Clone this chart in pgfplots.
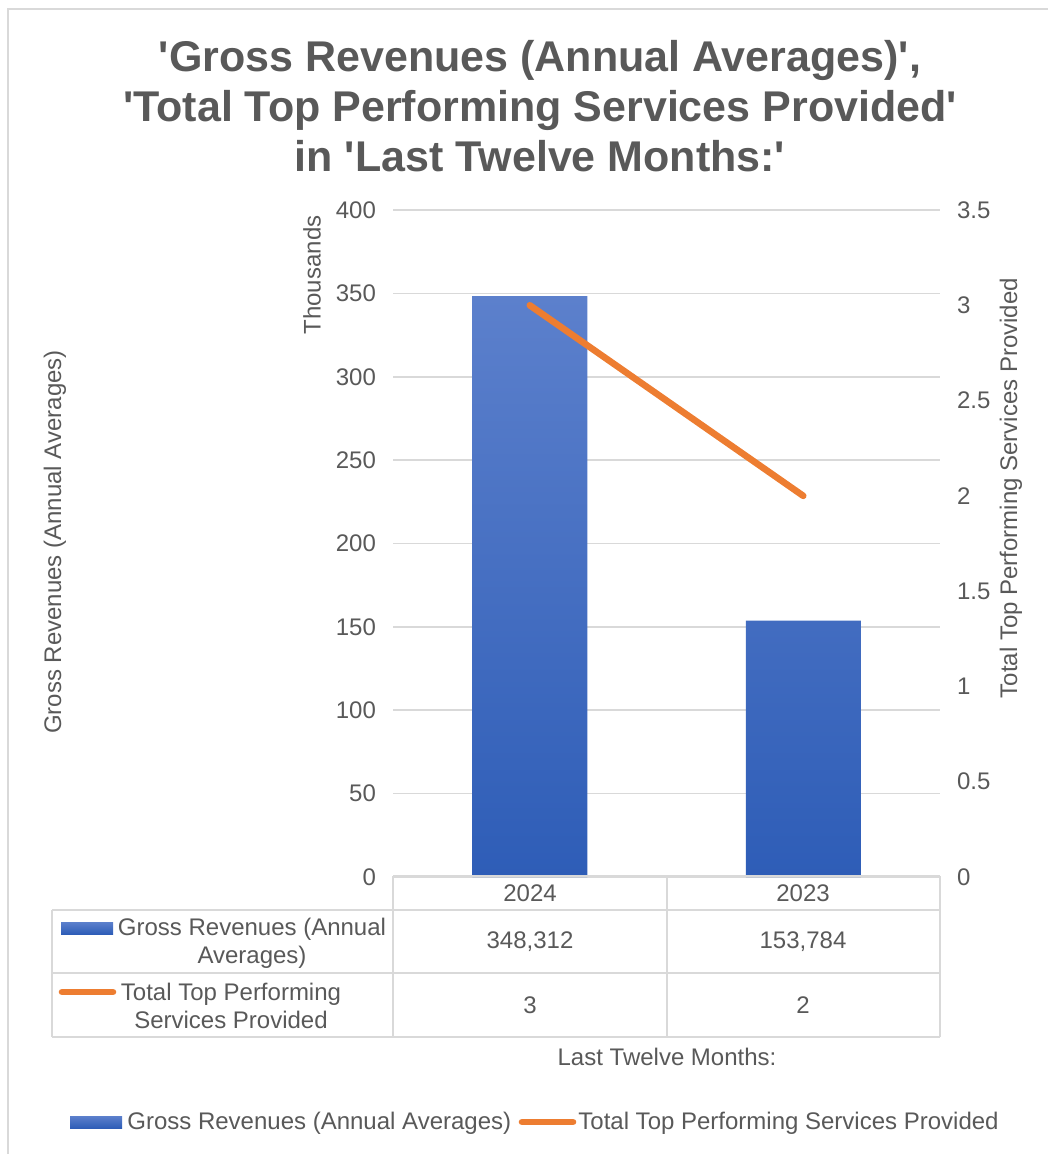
\documentclass[border=0pt]{standalone}
\usepackage{fontspec}
\setmainfont{Liberation Sans}
\usepackage{pgfplots}
\pgfplotsset{compat=1.18}
\definecolor{txt}{HTML}{595959}
\definecolor{gridc}{HTML}{D9D9D9}
\definecolor{bartop}{HTML}{5C80CC}
\definecolor{barbot}{HTML}{2E5DB7}
\definecolor{lineor}{HTML}{ED7D31}
\newcommand{\q}{\textquotesingle}
\begin{document}
\begin{tikzpicture}[x=0.5pt,y=-0.5pt]
\path[use as bounding box] (0,0) rectangle (1048,1154);
\draw[gridc, line width=1.2pt] (8,1154) -- (8,9) -- (1048,9);
\coordinate (O) at (393,877);
% title
\node[txt, font=\fontsize{21.5}{25}\selectfont\bfseries, align=center] at (540,106)
  {\q Gross Revenues (Annual Averages)\q,\\\q Total Top Performing Services Provided\q\\in \q Last Twelve Months:\q};
% primary axis
\begin{axis}[at={(O)}, anchor=south west, scale only axis,
  width=273.5pt, height=333.5pt, xmin=-0.5, xmax=1.5, ymin=0, ymax=400,
  axis line style={draw=none}, ytick={0,50,...,400}, xtick=\empty,
  ymajorgrids, grid style={gridc, line width=0.8pt}, major tick length=0pt,
  /pgf/number format/assume math mode=true,
  yticklabel style={txt, font=\fontsize{12}{14}\selectfont, xshift=-5pt},
  clip=false]
\addplot[ybar, bar width=57.5pt, draw=none, top color=bartop, bottom color=barbot]
  coordinates {(0,348.312) (1,153.784)};
\end{axis}
% secondary axis
\begin{axis}[at={(O)}, anchor=south west, scale only axis,
  width=273.5pt, height=333.5pt, xmin=-0.5, xmax=1.5, ymin=0, ymax=3.5,
  axis y line*=right, axis x line=none, axis line style={draw=none},
  ytick={0,0.5,...,3.5}, xtick=\empty, major tick length=0pt,
  /pgf/number format/assume math mode=true,
  yticklabel style={txt, font=\fontsize{12}{14}\selectfont, anchor=west, xshift=5pt},
  clip=false]
\addplot[lineor, line width=3.3pt, line cap=round] coordinates {(0,3) (1,2)};
\end{axis}
% axis labels
\node[txt, rotate=90, font=\fontsize{12}{14}\selectfont] at (55,542) {Gross Revenues (Annual Averages)};
\node[txt, rotate=90, font=\fontsize{12}{14}\selectfont] at (312,275) {Thousands};
\node[txt, rotate=90, font=\fontsize{12}{14}\selectfont] at (1011,488) {Total Top Performing Services Provided};
% data table
\begin{scope}[gridc, line width=1pt]
\draw (393,876) -- (940,876);
\draw (52,910) -- (940,910);
\draw (52,973) -- (940,973);
\draw (52,1037) -- (940,1037);
\draw (52,910) -- (52,1037);
\draw (393,876) -- (393,1037);
\draw (667,876) -- (667,1037);
\draw (940,876) -- (940,1037);
\end{scope}
\begin{scope}[every node/.style={txt, font=\fontsize{12}{14}\selectfont}]
\node at (530,893) {2024};
\node at (803,893) {2023};
\node at (530,942) {348,312};
\node at (803,942) {153,784};
\node at (530,1005) {3};
\node at (803,1005) {2};
\node[align=center] at (252,943) {Gross Revenues (Annual\\Averages)};
\node[align=center] at (231,1006) {Total Top Performing\\Services Provided};
\node at (667,1057) {Last Twelve Months:};
\node[anchor=west, inner sep=0pt] at (127,1123) {Gross Revenues (Annual Averages)};
\node[anchor=west, inner sep=0pt] at (578,1123) {Total Top Performing Services Provided};
\end{scope}
\shade[top color=bartop, bottom color=barbot] (61,922) rectangle (113,934);
\draw[lineor, line width=3.3pt, line cap=round] (62,992) -- (113,992);
\shade[top color=bartop, bottom color=barbot] (70,1116) rectangle (122,1128);
\draw[lineor, line width=3.3pt, line cap=round] (522,1122) -- (573,1122);
\end{tikzpicture}
\end{document}
